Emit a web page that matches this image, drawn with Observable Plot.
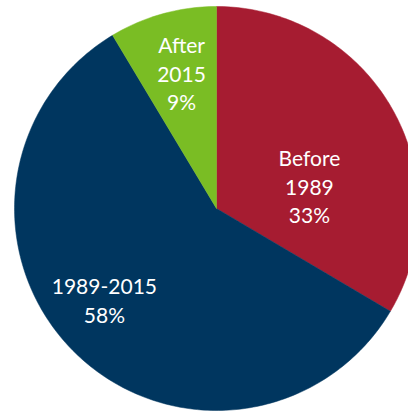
<!DOCTYPE html>
<html>
<head>
<meta charset="utf-8">
<script src="https://cdn.jsdelivr.net/npm/d3@7"></script>
<script src="https://cdn.jsdelivr.net/npm/@observablehq/plot@0.6"></script>
<style>
  html, body { margin: 0; padding: 0; background: #fff; overflow: hidden; }
  #chart { width: 408px; height: 411px; overflow: hidden; }
</style>
</head>
<body>
<div id="chart"></div>
<script>
// Data (shares; labels as printed)
const categories = ["Before 1989", "1989-2015", "After 2015"];
const shares = [33.5, 57.9, 8.6];
const labelLines = ["Before\n1989\n33%", "1989-2015\n58%", "After\n2015\n9%"];
const colors = ["#A61C31", "#00365F", "#7ABD24"];

// Layout (label anchors in unit-circle coordinates)
const labelAnchorX = [0.46, -0.555, -0.173];
const labelAnchorY = [0.114, -0.45, 0.673];

const arcs = d3.pie().sort(null).value(d => d)(shares);
const slicePoints = [];
arcs.forEach((a, i) => {
  const key = categories[i];
  slicePoints.push({key, px: 0, py: 0});
  const n = Math.max(2, Math.ceil((a.endAngle - a.startAngle) / (Math.PI / 180)));
  for (let k = 0; k <= n; k++) {
    const t = a.startAngle + (a.endAngle - a.startAngle) * k / n;
    slicePoints.push({key, px: Math.sin(t), py: Math.cos(t)});
  }
  slicePoints.push({key, px: 0, py: 0});
});

const labelData = categories.map((c, i) => ({
  key: c, text: labelLines[i], lx: labelAnchorX[i], ly: labelAnchorY[i]
}));

const chart = Plot.plot({
  width: 408,
  height: 411,
  margin: 0,
  style: {background: "#fff", overflow: "hidden"},
  x: {domain: [-1, 1], range: [14, 418], axis: null},
  y: {domain: [-1, 1], range: [410, 6], axis: null},
  color: {domain: categories, range: colors},
  marks: [
    Plot.line(slicePoints, {x: "px", y: "py", z: "key", fill: "key", stroke: "key", strokeWidth: 0.5, curve: "linear"}),
    Plot.text(labelData, {
      x: "lx", y: "ly", text: "text",
      fill: "white", fontSize: 21, fontFamily: "Lato", lineHeight: 1.36,
      textAnchor: "middle", lineAnchor: "middle"
    })
  ]
});
document.getElementById("chart").appendChild(chart);
</script>
</body>
</html>
